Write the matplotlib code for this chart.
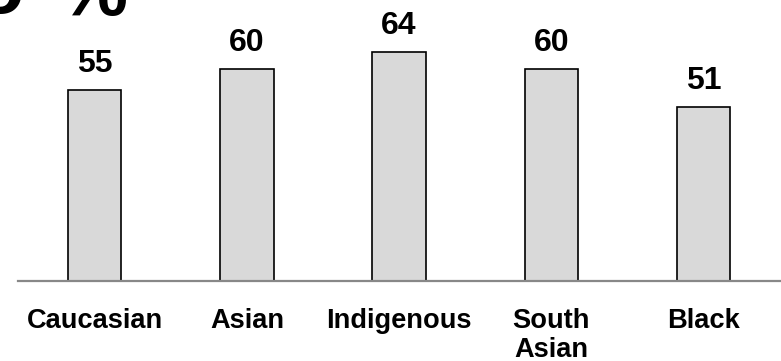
import matplotlib

matplotlib.use("Agg")
import matplotlib.pyplot as plt

groups = ["Caucasian", "Asian", "Indigenous", "South\nAsian", "Black"]
values = [55, 60, 64, 60, 51]

W, H, DPI = 781, 361, 100
plt.rcParams["font.family"] = ["Liberation Sans", "DejaVu Sans"]
plt.rcParams["font.weight"] = "bold"

fig = plt.figure(figsize=(W / DPI, H / DPI), dpi=DPI)
ax = fig.add_axes([18 / W, (H - 281) / H, (W - 18) / W, 281 / H])

x = range(len(groups))
bars = ax.bar(x, values, width=0.35, color="#d9d9d9", edgecolor="black",
              linewidth=1.2, zorder=1)
for b, v in zip(bars, values):
    ax.annotate(str(v), (b.get_x() + b.get_width() / 2, v),
                xytext=(0, 13), textcoords="offset points",
                ha="center", va="baseline", fontsize=23, fontweight="bold")

ax.set_xlim(-0.505, 4.51)
ax.set_ylim(10, 76.3)
ax.set_xticks(list(x))
ax.set_xticklabels(groups, fontsize=19.6, fontweight="bold", linespacing=1.17)
ax.tick_params(axis="x", length=0, pad=19.5)
ax.set_yticks([])
for side in ["top", "right", "left"]:
    ax.spines[side].set_visible(False)
ax.spines["bottom"].set_color("#888888")
ax.spines["bottom"].set_linewidth(1.6)

# cut-off heading at the top edge
fig.text(58 / W, 1 - 15 / H, "%", fontsize=56, fontweight="bold",
         ha="left", va="baseline")
fig.text(24 / W, 1 - 13 / H, "o", fontsize=56, fontweight="bold",
         ha="right", va="baseline")

fig.savefig("out.png", dpi=DPI)
